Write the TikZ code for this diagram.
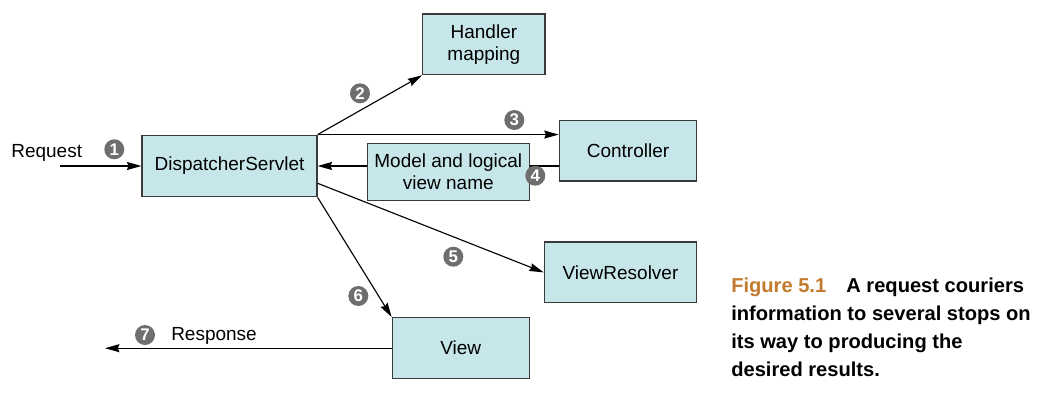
\documentclass[tikz,border=0pt]{standalone}
\usepackage{fontspec}
\setmainfont{Liberation Sans}
\usetikzlibrary{arrows.meta,calc}
\definecolor{boxfill}{HTML}{C6E6EA}
\definecolor{boxline}{HTML}{3A3A3A}
\definecolor{badge}{HTML}{6E6E6E}
\definecolor{figlabel}{HTML}{C27A2E}

\begin{document}
\begin{tikzpicture}[x=0.025cm, y=-0.025cm,
  comp/.style={draw=boxline, line width=0.9pt, fill=boxfill, inner sep=0pt, align=center, font=\fontsize{13.5}{15.6}\selectfont},
  flow/.style={line width=0.8pt, -{Stealth[length=0.36cm,width=0.2cm,inset=0.04cm]}},
  num/.style={circle, fill=badge, text=white, inner sep=0pt, minimum size=0.5cm, font=\fontsize{12}{12}\selectfont\bfseries},
  lbl/.style={font=\fontsize{13.5}{15.6}\selectfont}]
  \useasboundingbox (0,0) rectangle (1046,401);

  % Components
  \node[comp, minimum width=4.375cm, minimum height=1.54cm] (ds) at (229.5,166) {DispatcherServlet};
  \node[comp, minimum width=3.06cm, minimum height=1.52cm] (hm) at (483.9,44.3) {Handler\\mapping};
  \node[comp, minimum width=3.435cm, minimum height=1.51cm] (ctrl) at (628,150.9) {Controller};
  \node[comp, minimum width=4.05cm, minimum height=1.435cm] (mv) at (448.3,172) {Model and logical\\view name};
  \node[comp, minimum width=3.81cm, minimum height=1.52cm] (vr) at (620.5,272.4) {ViewResolver};
  \node[comp, minimum width=3.425cm, minimum height=1.525cm] (view) at (460.8,348.2) {View};

  % Request in, response out
  \coordinate (req) at (60,166);
  \coordinate (resp) at (105,348.2);
  \node[lbl] (reqlbl) at (46.7,153) {Request};
  \node[lbl] (resplbl) at (214,336) {Response};

  % Flow
  \draw[flow] (req) -- (ds.west);
  \draw[flow] (ds.north east) -- (hm.south west);
  \draw[flow] (ds.north east) -- (ds.north east -| ctrl.west);
  \draw[line width=0.8pt] (ds.east -| ctrl.west) -- (ds.east -| mv.east);
  \draw[flow] (mv.west |- ds.east) -- (ds.east);
  \draw[flow] ($(ds.east)!.55!(ds.south east)$) -- (vr.west);
  \draw[flow] (ds.south east) -- (view.north west);
  \draw[flow] (view.west) -- (resp);

  % Step numbers
  \node[num] (n1) at (114.3,149.3) {1};
  \node[num] (n2) at (360,93.3) {2};
  \node[num] (n3) at (514.3,120) {3};
  \node[num] (n4) at (535.3,175.7) {4};
  \node[num] (n5) at (453.3,256.7) {5};
  \node[num] (n6) at (358.3,296) {6};
  \node[num] (n7) at (145,335) {7};

  % Caption
  \node[anchor=west, align=left, inner sep=0pt, font=\fontsize{14.3}{19.9}\selectfont\bfseries] (cap) at (731,327)
    {\textcolor{figlabel}{Figure 5.1}\quad A request couriers\\information to several stops on\\its way to producing the\\desired results.};
\end{tikzpicture}
\end{document}
